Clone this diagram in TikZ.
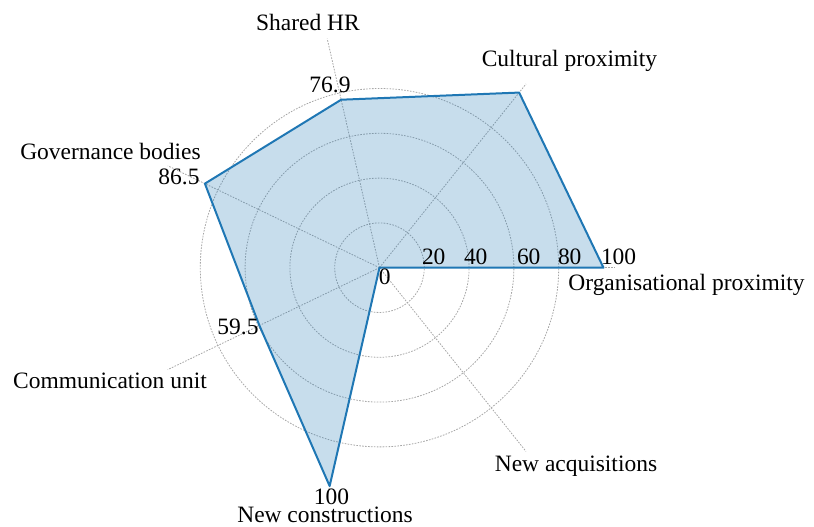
\documentclass[tikz,border=0pt]{standalone}
\usepackage{fontspec}
\setmainfont{Liberation Serif}
\definecolor{radarblue}{HTML}{1F77B4}

\begin{document}
\begin{tikzpicture}[x=0.75pt, y=0.75pt, font=\fontsize{17.6}{20}\selectfont,
  grid/.style={draw=gray!70, line width=0.6pt, dash pattern=on 1.2pt off 1pt},
  radar/.style={draw=radarblue, fill=radarblue, fill opacity=0.25, line width=1.5pt, line join=round},
  lbl/.style={inner sep=0pt, outer sep=0pt}]
\useasboundingbox (-379.5,-259.3) rectangle (434.5,267.7);
\coordinate (O) at (0,0);
\coordinate (A1) at (0:235);
\coordinate (A2) at (51.43:235);
\coordinate (A3) at (102.86:235);
\coordinate (A4) at (154.29:235);
\coordinate (A5) at (205.71:235);
\coordinate (A6) at (257.14:235);
\coordinate (A7) at (308.57:235);
\draw[grid] (O) circle (44.8);
\draw[grid] (O) circle (89.6);
\draw[grid] (O) circle (134.4);
\draw[grid] (O) circle (179.2);
\path [grid] (O) edge (A1);
\path [grid] (O) edge (A2);
\path [grid] (O) edge (A3);
\path [grid] (O) edge (A4);
\path [grid] (O) edge (A5);
\path [grid] (O) edge (A6);
\path [grid] (O) edge (A7);
\coordinate (P1) at (0:224);
\coordinate (P2) at (51.43:224);
\coordinate (P3) at (102.86:172.3);
\coordinate (P4) at (154.29:193.8);
\coordinate (P5) at (205.71:133.3);
\coordinate (P6) at (257.14:224);
\coordinate (P7) at (0,0);
\draw[radar] (P1) -- (P2) -- (P3) -- (P4) -- (P5) -- (P6) -- (P7) -- cycle;
\node[lbl, anchor=base west] (t20) at (42.5, 2.7) {20};
\node[lbl, anchor=base west] (t40) at (84.5, 2.7) {40};
\node[lbl, anchor=base west] (t60) at (137.5, 2.7) {60};
\node[lbl, anchor=base west] (t80) at (178.5, 2.7) {80};
\node[lbl, anchor=base west] (t100) at (221.5, 2.7) {100};
\node[lbl, anchor=base west] (v7) at (-0.5, -17.3) {0};
\node[lbl, anchor=base east] (v3) at (-29, 174.7) {76.9};
\node[lbl, anchor=base east] (v4) at (-180, 82.7) {86.5};
\node[lbl, anchor=base east] (v5) at (-121, -67.3) {59.5};
\node[lbl, anchor=base] (v6) at (-48, -236.8) {100};
\node[lbl, anchor=base] (L1) at (307, -23) {Organisational proximity};
\node[lbl, anchor=base] (L2) at (190, 200.7) {Cultural proximity};
\node[lbl, anchor=base] (L3) at (-71.5, 237.2) {Shared HR};
\node[lbl, anchor=base] (L4) at (-269, 107.7) {Governance bodies};
\node[lbl, anchor=base] (L5) at (-269.5, -120.8) {Communication unit};
\node[lbl, anchor=base] (L6) at (-54.5, -255) {New constructions};
\node[lbl, anchor=base] (L7) at (196.5, -204.3) {New acquisitions};
\end{tikzpicture}
\end{document}
